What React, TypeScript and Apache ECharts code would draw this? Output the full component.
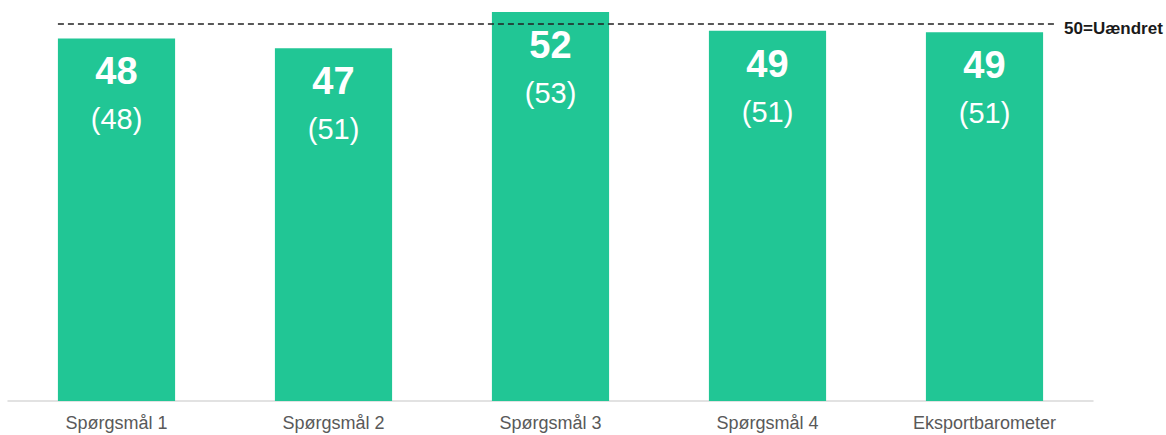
import React, { useEffect, useRef } from "react";
import * as echarts from "echarts";

const categories = ["Spørgsmål 1", "Spørgsmål 2", "Spørgsmål 3", "Spørgsmål 4", "Eksportbarometer"];
const currentValues = [48.1, 46.8, 51.6, 49.1, 48.9];
const previousValues = [48, 51, 53, 51, 51];
const referenceValue = 50;
const referenceLabel = "50=Uændret";
const referenceSpan = [-0.27, 4.33];

const FONT = "'Liberation Sans', Arial, sans-serif";

export default function App() {
  const ref = useRef<HTMLDivElement>(null);
  useEffect(() => {
    if (!ref.current) return;
    const chart = echarts.init(ref.current, null, { renderer: "svg" });
    chart.setOption({
      animation: false,
      backgroundColor: "#ffffff",
      textStyle: { fontFamily: FONT },
      grid: { left: 8, right: 73, top: 9, bottom: 34, containLabel: false },
      xAxis: [
        {
          type: "category",
          data: categories,
          axisLine: { show: true, lineStyle: { color: "#d9d9d9", width: 1.5 } },
          axisTick: { show: false },
          axisLabel: { color: "#595959", fontSize: 18, margin: 13, fontFamily: FONT },
        },
        {
          type: "value",
          min: -0.5,
          max: 4.5,
          show: false,
        },
      ],
      yAxis: {
        type: "value",
        min: 0,
        max: 52,
        show: false,
        splitLine: { show: false },
      },
      series: [
        {
          type: "bar",
          data: currentValues,
          barWidth: "54%",
          itemStyle: { color: "#21C695" },
          label: {
            show: true,
            position: "insideTop",
            distance: 10,
            formatter: (p: any) =>
              `{v|${Math.round(p.value)}}\n{p|(${previousValues[p.dataIndex]})}`,
            rich: {
              v: { fontSize: 38, fontWeight: "bold", color: "#ffffff", lineHeight: 46, fontFamily: FONT },
              p: { fontSize: 29, color: "#ffffff", lineHeight: 50, fontFamily: FONT },
            },
          },
        },
        {
          type: "line",
          xAxisIndex: 1,
          data: referenceSpan.map((x) => [x, referenceValue]),
          symbol: "none",
          lineStyle: { color: "#222222", width: 1.5, type: [6, 4] },
          z: 5,
          endLabel: {
            show: true,
            formatter: referenceLabel,
            distance: 8,
            color: "#1a1a1a",
            fontSize: 17,
            fontWeight: "bold",
            fontFamily: FONT,
            offset: [0, 4],
          },
        },
      ],
    });
    return () => chart.dispose();
  }, []);
  return (
    <div
      ref={ref}
      style={{ position: "fixed", left: 0, top: 0, width: 1166, height: 435 }}
    />
  );
}
